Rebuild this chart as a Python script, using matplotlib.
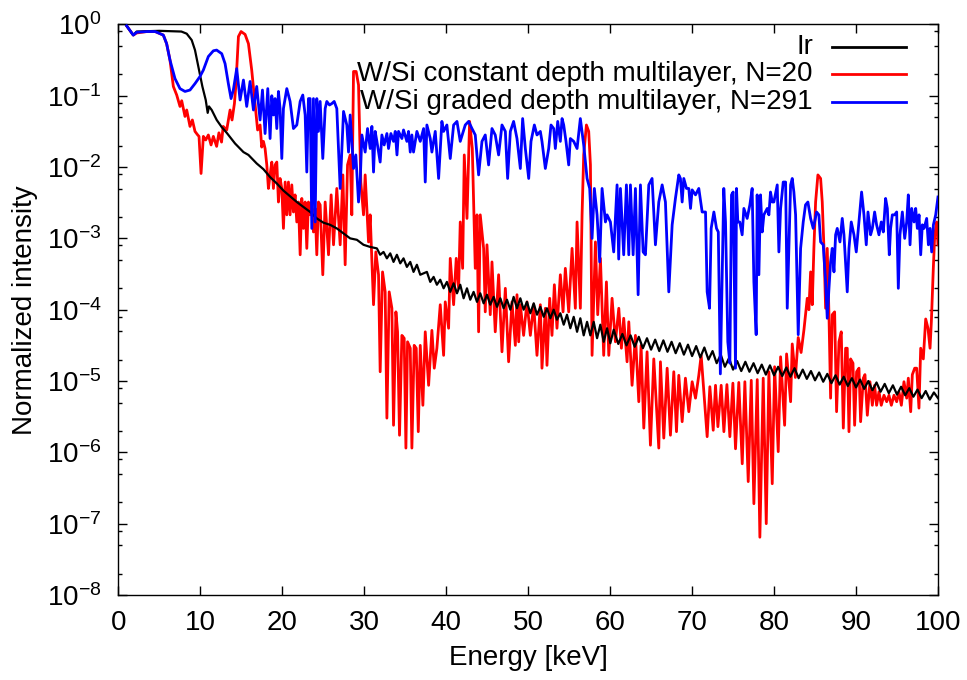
import numpy as np
import matplotlib
matplotlib.use("Agg")
import matplotlib.pyplot as plt
from matplotlib.ticker import FixedLocator, LogFormatterSciNotation, MultipleLocator, NullFormatter

plt.rcParams['font.family'] = ['Liberation Sans', 'DejaVu Sans']
plt.rcParams['mathtext.default'] = 'regular'
plt.rcParams['font.size'] = 20

# (energy in keV, log10 of normalized intensity)
ir_points = [
    (1.02, -0.02), (1.83, -0.15), (2.24, -0.10), (5.0, -0.09), (7.7, -0.10), (8.35, -0.13),
    (8.96, -0.22), (9.36, -0.36), (9.77, -0.59), (10.26, -0.87), (10.67, -1.06), (10.91, -1.24),
    (11.07, -1.15), (11.40, -1.20), (12.01, -1.34), (12.62, -1.44), (13.23, -1.52), (14.25, -1.67),
    (15.27, -1.79), (15.88, -1.83), (16.89, -1.95), (17.71, -2.03), (18.52, -2.14), (19.34, -2.23),
    (20.15, -2.33), (20.96, -2.41), (21.78, -2.49), (22.59, -2.56), (23.41, -2.63), (24.22, -2.72),
    (25.03, -2.78), (25.85, -2.81), (26.66, -2.86), (27.48, -2.93), (28.29, -3.00), (29.11, -3.02),
    (29.92, -3.09), (30.73, -3.12), (31.55, -3.14), (31.95, -3.23), (32.36, -3.19), (32.77, -3.28),
    (33.18, -3.21), (33.58, -3.33), (33.99, -3.23), (34.40, -3.35), (34.80, -3.28), (35.21, -3.40),
    (35.62, -3.33), (36.02, -3.47), (36.43, -3.37), (36.84, -3.51), (37.65, -3.47), (38.06, -3.61),
    (38.47, -3.54), (38.87, -3.65), (39.28, -3.58), (39.69, -3.70), (40.09, -3.61), (40.50, -3.75),
    (40.91, -3.63), (41.32, -3.77), (41.72, -3.65), (42.13, -3.84), (42.54, -3.70), (42.94, -3.86),
    (43.35, -3.75), (43.76, -3.89), (44.16, -3.77), (44.57, -3.91), (44.98, -3.79), (45.38, -3.93),
    (45.79, -3.82), (46.20, -3.96), (46.61, -3.84), (47.01, -3.98), (47.42, -3.86), (47.83, -4.00),
    (48.23, -3.82), (48.64, -3.98), (49.05, -3.84), (49.45, -4.00), (49.86, -3.89), (50.27, -4.05),
    (50.68, -3.91), (51.08, -4.07), (51.49, -3.96), (51.90, -4.10), (52.30, -3.98), (52.71, -4.12),
    (53.12, -4.00), (53.52, -4.14), (53.93, -4.05), (54.34, -4.21), (54.74, -4.07), (55.15, -4.26),
    (55.56, -4.10), (55.97, -4.31), (56.37, -4.12), (56.78, -4.36), (57.19, -4.17), (57.59, -4.36),
    (58.00, -4.17), (58.41, -4.40), (58.81, -4.21), (59.22, -4.45), (59.63, -4.26), (60.03, -4.47),
    (60.44, -4.28), (61.0, -4.48), (61.5, -4.34), (62.0, -4.50), (62.5, -4.36), (63.0, -4.52),
    (63.5, -4.38), (64.0, -4.54), (64.5, -4.40), (65.0, -4.56), (65.5, -4.42), (66.0, -4.58),
    (66.5, -4.43), (67.0, -4.59), (67.5, -4.45), (68.0, -4.61), (68.5, -4.47), (69.0, -4.63),
    (69.5, -4.49), (70.0, -4.65), (70.5, -4.51), (71.0, -4.67), (71.5, -4.53), (72.0, -4.70),
    (72.5, -4.58), (73.0, -4.75), (73.5, -4.63), (74.0, -4.80), (74.5, -4.68), (75.0, -4.84),
    (75.5, -4.72), (76.0, -4.86), (76.5, -4.73), (77.0, -4.87), (77.5, -4.75), (78.0, -4.89),
    (78.5, -4.77), (79.0, -4.91), (79.5, -4.78), (80.0, -4.92), (80.5, -4.80), (81.0, -4.93),
    (81.5, -4.81), (82.0, -4.94), (82.5, -4.82), (83.0, -4.96), (83.5, -4.84), (84.0, -4.97),
    (84.5, -4.86), (85.0, -4.99), (85.5, -4.88), (86.0, -5.01), (86.5, -4.90), (87.0, -5.03),
    (87.5, -4.92), (88.0, -5.05), (88.5, -4.94), (89.0, -5.07), (89.5, -4.96), (90.0, -5.09),
    (90.5, -4.98), (91.0, -5.11), (91.5, -5.00), (92.0, -5.13), (92.5, -5.02), (93.0, -5.15),
    (93.5, -5.04), (94.0, -5.17), (94.5, -5.06), (95.0, -5.19), (95.5, -5.08), (96.0, -5.20),
    (96.5, -5.10), (97.0, -5.22), (97.5, -5.12), (98.0, -5.24), (98.5, -5.14), (99.0, -5.26),
    (99.5, -5.16), (100.0, -5.24),
]

ml20_points = [
    (1.02, -0.02), (1.83, -0.15), (2.24, -0.12), (3.5, -0.10), (4.5, -0.10), (5.5, -0.15),
    (5.9, -0.27), (6.31, -0.50), (6.72, -0.87), (7.13, -0.99), (7.53, -1.15), (7.74, -1.07),
    (8.14, -1.29), (8.35, -1.20), (8.75, -1.43), (9.04, -1.34), (9.36, -1.50), (9.69, -1.55),
    (9.85, -1.57), (10.10, -2.09), (10.38, -1.57), (10.67, -1.62), (10.99, -1.55), (11.32, -1.69),
    (11.60, -1.57), (12.00, -1.71), (12.28, -1.52), (12.60, -1.65), (12.80, -1.43), (13.23, -1.48),
    (13.64, -1.20), (13.88, -1.34), (14.17, -1.11), (14.35, -0.85), (14.66, -0.17), (14.98, -0.10),
    (15.47, -0.14), (15.88, -0.27), (16.28, -0.64), (16.69, -1.11), (17.00, -1.48), (17.30, -1.41),
    (17.50, -1.72), (17.71, -1.64), (17.91, -1.74), (18.12, -1.97), (18.32, -2.30), (18.52, -2.11),
    (18.73, -1.93), (18.93, -2.30), (19.13, -1.97), (19.34, -1.93), (19.54, -2.49), (19.74, -2.16),
    (19.95, -2.30), (20.15, -2.86), (20.36, -2.21), (20.56, -2.67), (20.76, -2.21), (20.96, -2.67),
    (21.17, -2.25), (21.37, -2.63), (21.57, -2.39), (21.78, -2.77), (21.98, -2.49), (22.19, -3.23),
    (22.39, -2.44), (22.59, -2.86), (22.80, -2.49), (23.00, -3.14), (23.20, -2.49), (23.41, -2.67),
    (23.61, -2.49), (23.81, -2.91), (24.02, -2.58), (24.22, -3.23), (24.42, -2.49), (24.63, -2.53),
    (24.95, -3.51), (25.24, -2.49), (25.65, -3.23), (25.97, -2.39), (26.26, -3.09), (26.66, -2.30),
    (27.07, -3.09), (27.40, -2.11), (27.68, -3.37), (27.97, -1.97), (28.29, -1.83), (28.49, -2.67),
    (28.70, -0.66), (29.02, -0.66), (29.31, -0.85), (29.59, -2.21), (29.92, -2.67), (30.12, -2.11),
    (30.53, -3.05), (30.73, -2.67), (31.14, -3.93), (31.42, -3.19), (31.75, -3.51), (31.95, -4.87),
    (32.24, -3.47), (32.56, -3.75), (32.77, -5.52), (33.05, -3.75), (33.38, -3.98), (33.58, -5.62),
    (33.87, -4.03), (34.07, -4.31), (34.31, -5.76), (34.60, -4.36), (34.88, -4.40), (35.09, -5.94),
    (35.29, -4.45), (35.62, -4.54), (35.82, -5.94), (36.10, -4.50), (36.35, -4.54), (36.60, -5.71),
    (36.84, -4.50), (37.16, -5.34), (37.45, -4.31), (37.86, -5.06), (38.26, -4.29), (38.55, -4.82),
    (38.87, -4.54), (39.28, -3.93), (39.69, -4.64), (39.89, -3.89), (40.30, -4.26), (40.50, -3.28),
    (40.91, -3.93), (41.23, -3.28), (41.52, -3.70), (41.72, -2.77), (42.01, -3.42), (42.21, -1.83),
    (42.54, -2.72), (42.86, -1.36), (43.19, -1.74), (43.55, -3.42), (43.76, -2.67), (43.96, -4.31),
    (44.16, -2.67), (44.57, -3.14), (44.77, -4.03), (44.98, -3.09), (45.38, -4.07), (45.59, -3.33),
    (45.99, -4.31), (46.40, -3.51), (46.81, -4.59), (47.22, -3.70), (47.62, -4.73), (48.03, -3.89),
    (48.44, -4.50), (48.64, -3.79), (48.85, -4.45), (49.05, -3.93), (49.45, -4.36), (49.86, -3.89),
    (50.27, -4.36), (50.68, -3.93), (51.08, -4.64), (51.49, -3.93), (51.69, -4.82), (52.10, -3.98),
    (52.30, -4.78), (52.63, -3.84), (52.91, -4.36), (53.20, -3.65), (53.52, -4.26), (53.93, -3.51),
    (54.26, -4.03), (54.54, -3.42), (54.95, -4.03), (55.36, -3.14), (55.76, -3.98), (55.97, -2.77),
    (56.37, -3.98), (56.58, -2.67), (56.78, -1.83), (57.11, -1.41), (57.39, -1.50), (57.60, -1.97),
    (57.80, -4.64), (58.21, -3.05), (58.49, -4.07), (58.82, -3.28), (59.22, -4.64), (59.55, -3.61),
    (59.84, -4.64), (60.24, -3.84), (60.65, -4.45), (61.06, -3.98), (61.38, -4.54), (61.66, -4.12),
    (62.07, -4.73), (62.28, -4.17), (62.68, -5.06), (63.09, -4.36), (63.50, -5.29), (63.78, -4.50),
    (64.11, -5.66), (64.51, -4.59), (64.92, -5.90), (65.33, -4.69), (65.94, -5.94), (66.14, -4.73),
    (66.55, -5.80), (66.96, -4.82), (67.36, -5.76), (67.77, -4.87), (68.10, -5.71), (68.38, -4.92),
    (68.79, -5.57), (69.19, -4.96), (69.60, -5.43), (70.01, -5.01), (70.42, -5.24), (70.82, -4.92),
    (71.11, -4.64), (71.84, -5.78), (72.17, -5.08), (72.58, -5.69), (72.86, -5.06), (73.15, -5.64),
    (73.55, -5.06), (73.88, -5.71), (74.25, -5.05), (74.61, -5.78), (74.98, -5.03), (75.30, -5.95),
    (75.70, -5.02), (76.12, -6.16), (76.44, -5.01), (76.85, -6.41), (77.22, -4.99), (77.54, -6.72),
    (77.95, -4.98), (78.27, -7.19), (78.68, -4.96), (79.05, -7.00), (79.37, -4.87), (79.78, -6.44),
    (80.07, -4.80), (80.51, -5.99), (80.80, -4.66), (81.29, -5.62), (81.53, -4.62), (82.02, -5.29),
    (82.22, -4.48), (82.60, -4.95), (82.95, -4.39), (83.30, -4.60), (83.65, -4.28), (84.05, -3.84),
    (84.25, -4.00), (84.46, -3.47), (84.66, -3.93), (84.86, -3.14), (85.07, -2.49), (85.35, -2.11),
    (85.68, -2.16), (85.88, -2.49), (86.09, -3.14), (86.29, -3.98), (86.49, -3.14), (86.70, -4.07),
    (86.90, -5.24), (87.10, -4.07), (87.39, -4.03), (87.63, -5.43), (87.92, -4.45), (88.20, -4.31),
    (88.45, -5.66), (88.73, -4.54), (88.93, -4.54), (89.14, -5.71), (89.34, -4.69), (89.63, -4.75),
    (89.83, -5.62), (90.07, -4.87), (90.36, -4.82), (90.56, -5.57), (90.89, -4.96), (91.09, -4.91),
    (91.38, -5.48), (91.70, -5.01), (91.99, -5.34), (92.27, -5.06), (92.51, -5.34), (92.80, -5.15),
    (93.08, -5.34), (93.41, -5.20), (93.74, -5.29), (94.02, -5.20), (94.31, -5.34), (94.63, -5.20),
    (94.96, -5.29), (95.24, -5.15), (95.53, -5.34), (95.85, -5.01), (96.18, -5.24), (96.38, -4.96),
    (96.67, -5.43), (96.87, -4.91), (97.16, -4.82), (97.40, -4.82), (97.68, -5.38), (97.89, -4.54),
    (98.21, -4.69), (98.50, -4.13), (98.78, -4.26), (99.03, -4.54), (99.19, -4.17), (99.43, -3.42),
    (99.60, -2.95), (99.84, -2.77), (100.0, -3.09),
]

ml291_points = [
    (1.02, -0.02), (1.83, -0.15), (2.24, -0.11), (3.5, -0.10), (4.5, -0.10), (5.5, -0.15),
    (5.9, -0.27), (6.31, -0.50), (6.92, -0.76), (7.53, -0.90), (8.14, -0.94), (8.75, -0.92),
    (9.36, -0.83), (9.97, -0.73), (10.38, -0.64), (10.99, -0.45), (11.60, -0.37), (12.00, -0.36),
    (12.62, -0.41), (13.03, -0.55), (13.43, -0.83), (13.76, -1.04), (14.04, -0.92), (14.45, -0.62),
    (14.86, -1.06), (15.27, -0.78), (15.67, -1.15), (16.08, -0.80), (16.49, -1.20), (16.89, -0.87),
    (17.30, -1.34), (17.59, -0.92), (17.91, -1.53), (18.24, -0.90), (18.52, -1.60), (18.73, -1.00),
    (18.93, -1.27), (19.13, -1.04), (19.34, -1.46), (19.54, -0.94), (19.74, -1.18), (19.95, -1.88),
    (20.15, -1.18), (20.56, -0.90), (20.96, -1.08), (21.37, -1.46), (21.78, -1.41), (22.19, -1.08),
    (22.51, -0.99), (22.80, -1.27), (23.00, -2.07), (23.20, -1.04), (23.41, -1.04), (23.61, -2.86),
    (23.81, -1.04), (24.02, -2.77), (24.22, -1.04), (24.42, -1.50), (24.63, -1.08), (24.95, -1.88),
    (25.24, -1.18), (25.44, -1.08), (25.77, -1.13), (26.05, -1.11), (26.34, -1.08), (26.66, -1.18),
    (27.07, -2.30), (27.48, -1.22), (27.88, -1.41), (28.09, -1.79), (28.29, -1.27), (28.70, -2.02),
    (28.98, -1.83), (29.31, -2.49), (29.51, -2.21), (29.72, -1.55), (30.12, -1.79), (30.41, -1.46),
    (30.73, -1.74), (30.94, -1.43), (31.14, -2.07), (31.34, -1.50), (31.55, -1.64), (31.95, -1.93),
    (32.16, -1.55), (32.44, -1.69), (32.77, -1.53), (32.97, -1.74), (33.26, -1.53), (33.58, -1.64),
    (33.79, -1.50), (34.00, -1.83), (34.19, -1.50), (34.60, -1.60), (34.80, -1.48), (35.21, -1.64),
    (35.41, -1.50), (35.62, -1.79), (35.82, -1.55), (36.02, -1.79), (36.43, -1.50), (36.84, -1.64),
    (37.25, -1.46), (37.45, -2.21), (37.65, -1.41), (38.06, -1.60), (38.26, -1.79), (38.67, -1.50),
    (39.08, -2.16), (39.48, -1.36), (39.69, -1.50), (40.09, -1.41), (40.50, -1.88), (40.91, -1.41),
    (41.32, -1.36), (41.72, -1.64), (42.33, -1.41), (42.74, -1.36), (43.15, -1.46), (43.55, -1.55),
    (43.96, -2.11), (44.37, -1.64), (44.77, -1.55), (45.18, -1.97), (45.59, -1.46), (45.99, -1.55),
    (46.40, -1.83), (46.81, -1.41), (47.22, -1.50), (47.50, -2.16), (47.83, -1.50), (48.23, -1.36),
    (48.64, -1.60), (49.05, -2.02), (49.33, -1.32), (49.66, -1.74), (50.07, -2.16), (50.35, -1.64),
    (50.76, -1.41), (51.08, -1.55), (51.49, -1.50), (51.69, -1.64), (52.10, -2.02), (52.51, -1.74),
    (52.79, -1.41), (53.12, -1.46), (53.32, -1.74), (53.61, -1.36), (53.93, -1.64), (54.14, -1.32),
    (54.34, -1.41), (54.62, -1.64), (54.95, -1.97), (55.15, -1.60), (55.56, -1.64), (55.97, -1.74),
    (56.37, -1.32), (56.78, -1.69), (57.19, -2.16), (57.51, -2.30), (57.80, -3.00), (58.08, -2.30),
    (58.41, -2.67), (58.73, -3.33), (59.02, -2.30), (59.43, -2.77), (59.63, -2.67), (60.04, -2.77),
    (60.44, -3.19), (60.85, -2.25), (61.05, -3.29), (61.26, -2.30), (61.66, -3.23), (61.99, -2.25),
    (62.28, -3.23), (62.48, -2.25), (62.81, -3.23), (63.09, -2.30), (63.42, -3.79), (63.70, -2.25),
    (64.03, -3.19), (64.31, -3.23), (64.72, -2.25), (65.12, -2.16), (65.53, -3.09), (65.94, -2.49),
    (66.35, -2.25), (66.75, -2.49), (67.16, -3.75), (67.57, -2.81), (67.97, -2.44), (68.38, -2.11),
    (68.58, -2.16), (68.79, -2.49), (68.99, -2.16), (69.32, -2.30), (69.60, -2.30), (69.81, -2.58),
    (70.01, -2.32), (70.42, -2.39), (70.82, -2.30), (71.23, -2.63), (71.64, -2.63), (71.84, -3.75),
    (72.13, -3.98), (72.33, -2.86), (72.66, -2.63), (72.98, -2.86), (73.20, -2.91), (73.45, -4.90),
    (73.87, -2.30), (74.08, -2.77), (74.36, -4.45), (74.61, -4.75), (74.81, -2.39), (75.01, -2.35),
    (75.30, -4.82), (75.42, -2.30), (75.58, -2.77), (75.82, -2.77), (76.11, -2.95), (76.32, -2.58),
    (76.72, -2.72), (77.05, -2.53), (77.33, -2.30), (77.54, -3.61), (77.82, -4.35), (77.94, -2.39),
    (78.15, -3.51), (78.35, -2.39), (78.56, -2.91), (78.76, -2.67), (79.17, -2.58), (79.37, -2.67),
    (79.57, -2.35), (79.78, -2.49), (79.98, -2.49), (80.39, -2.25), (80.59, -3.19), (80.80, -2.58),
    (81.12, -2.21), (81.41, -2.21), (81.61, -3.98), (82.02, -2.25), (82.22, -2.16), (82.42, -2.35),
    (82.63, -2.67), (82.95, -4.35), (83.24, -3.14), (83.56, -2.77), (83.84, -2.53), (84.13, -2.49),
    (84.46, -2.72), (84.78, -2.86), (84.95, -2.77), (85.19, -2.63), (85.47, -2.67), (85.68, -3.05),
    (86.00, -3.09), (86.29, -3.61), (86.49, -4.12), (86.70, -3.70), (86.90, -3.33), (87.10, -3.14),
    (87.31, -3.47), (87.51, -2.95), (87.71, -2.86), (88.04, -3.05), (88.32, -2.72), (88.53, -2.95),
    (88.93, -3.75), (89.14, -3.14), (89.42, -2.77), (89.75, -2.95), (90.03, -3.19), (90.36, -2.77),
    (90.68, -2.35), (90.97, -2.67), (91.25, -3.09), (91.46, -2.63), (91.78, -2.95), (91.99, -2.86),
    (92.27, -2.63), (92.51, -2.81), (92.80, -2.95), (93.08, -2.77), (93.33, -2.91), (93.61, -2.44),
    (93.82, -2.58), (94.06, -3.23), (94.22, -2.86), (94.43, -2.67), (94.71, -2.67), (94.96, -2.63),
    (95.16, -3.70), (95.36, -2.95), (95.65, -2.63), (95.94, -3.00), (96.18, -2.77), (96.38, -2.39),
    (96.59, -3.09), (96.79, -2.58), (97.08, -2.77), (97.28, -2.58), (97.48, -2.86), (97.69, -2.67),
    (97.89, -3.23), (98.09, -2.81), (98.30, -2.86), (98.62, -2.72), (98.83, -3.09), (99.03, -2.86),
    (99.23, -3.19), (99.44, -2.81), (99.72, -2.67), (99.93, -2.49), (100.0, -2.42),
]

y_decades = [1e-8, 1e-7, 1e-6, 1e-5, 1e-4, 1e-3, 1e-2, 1e-1, 1e0]
y_minor_subs = [0.2, 0.5, 0.8]

series = [
    ('Ir', ir_points, 'black', 1.6, 3),
    ('W/Si constant depth multilayer, N=20', ml20_points, '#ff0000', 2.0, 2),
    ('W/Si graded depth multilayer, N=291', ml291_points, '#0000ff', 2.0, 4),
]

fig = plt.figure(figsize=(9.67, 6.8), dpi=100)
ax = fig.add_axes([0.1223, 0.125, 0.8477, 0.8391])

for label, pts, color, lw, z in series:
    arr = np.array(pts)
    ax.plot(arr[:, 0], 10.0 ** arr[:, 1], color=color, lw=lw, zorder=z)

ax.set_yscale('log')
ax.set_xlim(0, 100)
ax.set_ylim(y_decades[0], y_decades[-1])
ax.xaxis.set_major_locator(MultipleLocator(10))
ax.yaxis.set_major_locator(FixedLocator(y_decades))
ax.yaxis.set_major_formatter(LogFormatterSciNotation())
minor = [d * s for d in y_decades[1:] for s in y_minor_subs]
ax.yaxis.set_minor_locator(FixedLocator(minor))
ax.yaxis.set_minor_formatter(NullFormatter())

ax.tick_params(which='both', direction='in', top=True, right=True, width=1.0)
ax.tick_params(which='major', length=6.5)
ax.tick_params(which='minor', length=3.2)
ax.tick_params(axis='x', pad=11)
ax.tick_params(axis='y', pad=12)
for s in ax.spines.values():
    s.set_linewidth(1.0)

ax.set_xlabel('Energy [keV]', labelpad=6)
ax.set_ylabel('Normalized intensity', labelpad=6)

# gnuplot style key: right aligned text, line sample on the right
key_rows = [0.9604, 0.9125, 0.8645]
for (label, pts, color, lw, z), ky in zip(series, key_rows):
    ax.text(0.8475, ky, label, transform=ax.transAxes, ha='right', va='center')
    ax.plot([0.8707, 0.9609], [ky, ky], transform=ax.transAxes, color=color, lw=2.0)

fig.savefig('out.png', dpi=100)
